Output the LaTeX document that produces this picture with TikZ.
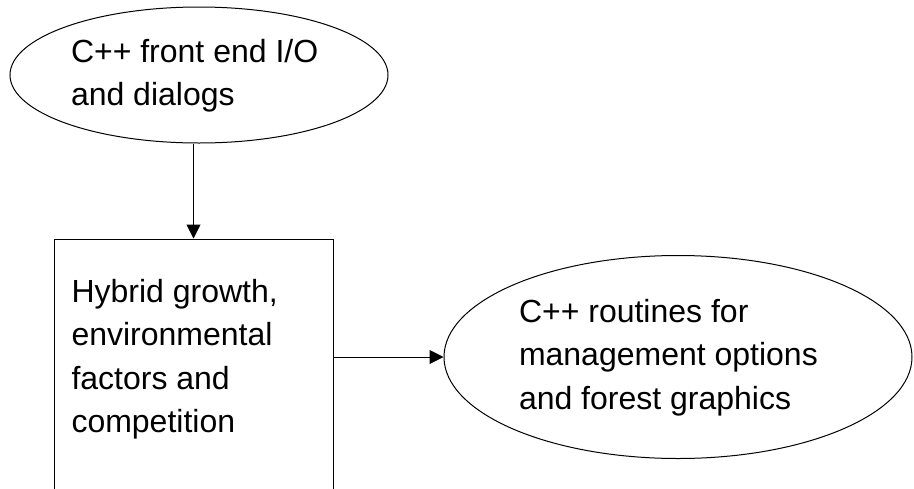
\documentclass[tikz,border=0pt]{standalone}
\usepackage{fontspec}
\setmainfont{Liberation Sans}
\usetikzlibrary{shapes.geometric,arrows.meta}
\begin{document}
\begin{tikzpicture}[x=1pt,y=-1pt,line width=1pt,
  oval/.style={draw,ellipse,inner sep=0pt},
  boxnode/.style={draw,rectangle,inner sep=0pt},
  lbl/.style={anchor=north west,inner sep=0pt,align=left,font=\fontsize{32}{43.5}\selectfont},
  arr/.style={-{Triangle[length=14pt,width=14pt]}}]
\useasboundingbox (0,0) rectangle (914,488);
\clip (0,0) rectangle (914,488);
\node[oval,minimum width=378pt,minimum height=136pt] (top) at (199,75) {};
\node[boxnode,minimum width=279pt,minimum height=261pt] (box) at (193.5,369.5) {};
\node[oval,minimum width=468pt,minimum height=203pt] (right) at (678,357) {};
\node[lbl] (t1) at (70.5,38.6) {C++ front end I/O\\and dialogs};
\node[lbl] (t2) at (71,278.7) {Hybrid growth,\\environmental\\factors and\\competition};
\node[lbl] (t3) at (518.5,298.7) {C++ routines for\\management options\\and forest graphics};
\draw[arr] (top.south -| box.north) -- (box.north);
\draw[arr] (box.east |- right.west) -- (right.west);
\end{tikzpicture}
\end{document}
